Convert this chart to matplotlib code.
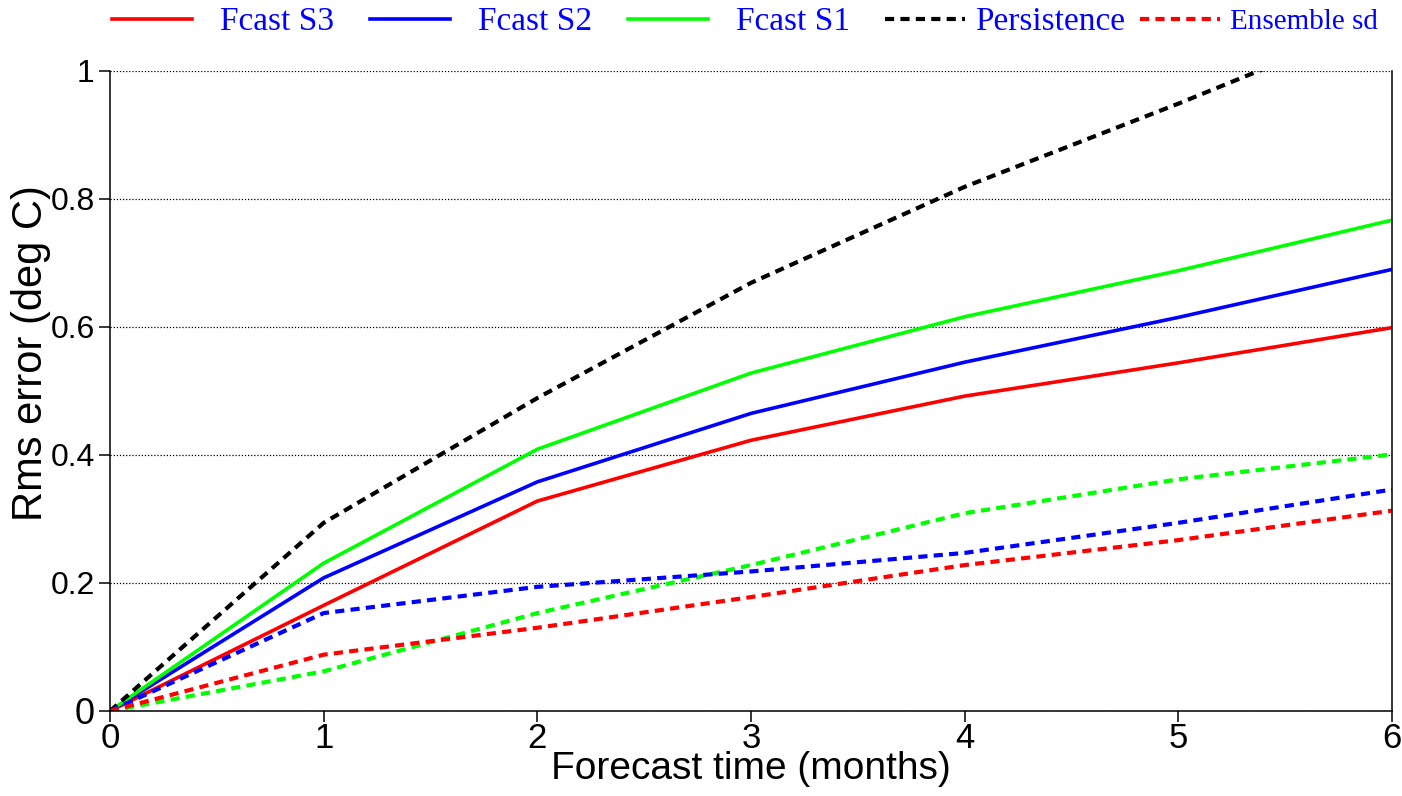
import matplotlib
matplotlib.use("Agg")
import matplotlib.pyplot as plt

months = [0, 1, 2, 3, 4, 5, 6]

rms_s3 = [0.0, 0.165, 0.328, 0.423, 0.492, 0.544, 0.599]
rms_s2 = [0.0, 0.208, 0.358, 0.465, 0.545, 0.615, 0.690]
rms_s1 = [0.0, 0.231, 0.409, 0.528, 0.616, 0.688, 0.767]
rms_persist = [0.0, 0.294, 0.489, 0.669, 0.819, 0.949, 1.085]

sd_s3 = [0.0, 0.088, 0.130, 0.178, 0.228, 0.267, 0.313]
sd_s2 = [0.0, 0.153, 0.194, 0.218, 0.247, 0.294, 0.346]
sd_s1 = [0.0, 0.062, 0.153, 0.228, 0.309, 0.362, 0.401]

labels = ["Fcast S3", "Fcast S2", "Fcast S1", "Persistence", "Ensemble sd"]

sans = "Liberation Sans"
serif = "Liberation Serif"
dash = (0, (2.2, 1.5))

fig = plt.figure(figsize=(14.02, 7.96), dpi=100)
ax = fig.add_axes([110 / 1402, 85 / 796, 1282 / 1402, 640 / 796])

l3, = ax.plot(months, rms_s3, color="#ff0000", lw=2.6)
l2, = ax.plot(months, rms_s2, color="#0000ff", lw=2.6)
l1, = ax.plot(months, rms_s1, color="#00ff00", lw=2.6)
lp, = ax.plot(months, rms_persist, color="black", lw=3.0, ls=dash)
ax.plot(months, sd_s1, color="#00ff00", lw=3.0, ls=dash)
ax.plot(months, sd_s2, color="#0000ff", lw=3.0, ls=dash)
ls3, = ax.plot(months, sd_s3, color="#ff0000", lw=3.0, ls=dash)

ax.set_xlim(0, 6)
ax.set_ylim(0, 1)
ax.set_xticks(months)
ax.set_yticks([0, 0.2, 0.4, 0.6, 0.8, 1])
ax.set_yticklabels(["0", "0.2", "0.4", "0.6", "0.8", "1"])
ax.grid(axis="y", color="black", ls=(0, (1, 1.5)), lw=0.9)
ax.set_axisbelow(True)

ax.spines["top"].set_visible(False)
for s in ["left", "bottom", "right"]:
    ax.spines[s].set_linewidth(1.1)

ax.tick_params(axis="both", direction="out", length=8, width=1.1)
ax.tick_params(axis="x", labelsize=25, pad=0)
ax.tick_params(axis="y", labelsize=23, pad=3)
for t in ax.get_xticklabels() + ax.get_yticklabels():
    t.set_fontfamily(sans)
ax.get_yticklabels()[0].set_fontsize(26)

ax.set_xlabel("Forecast time (months)", fontsize=28, family=sans, va="top")
ax.xaxis.set_label_coords(0.5, -0.062)
ax.set_ylabel("Rms error (deg C)", fontsize=30, family=sans)
ax.yaxis.set_label_coords(-0.046, 0.56)

# legend across the top, one entry at a time so the spacing matches
handles = [l3, l2, l1, lp, ls3]
starts = [112, 370, 628, 885, 1140]
sizes = [24, 24, 24, 24, 21]
pads = [28, 28, 28, 10, 10]
for h, lab, x0, fs, pd in zip(handles, labels, starts, sizes, pads):
    fpx = fs * 100 / 72
    leg = fig.legend([h], [lab], loc="center left",
                     bbox_to_anchor=(x0 / 1402, 1 - 22 / 796),
                     frameon=False, borderpad=0, borderaxespad=0,
                     handlelength=80 / fpx, handletextpad=pd / fpx,
                     prop={"family": serif, "size": fs})
    for t in leg.get_texts():
        t.set_color("#0000ff")

fig.savefig("out.png", dpi=100)
